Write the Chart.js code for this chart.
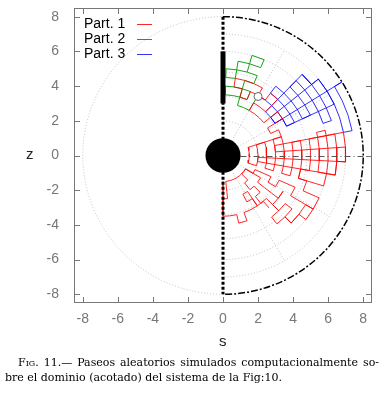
<!DOCTYPE html>
<html>
<head>
<meta charset="utf-8">
<script src="https://cdn.jsdelivr.net/npm/chart.js@4.4.1/dist/chart.umd.min.js"></script>
<style>
  html, body { margin: 0; padding: 0; background: #fff; }
  #wrap { position: relative; width: 386px; height: 405px; overflow: hidden; }
  #chart { position: absolute; left: 0; top: -6px; }
  .axlab { position: absolute; font: 15px "Liberation Sans", Arial, sans-serif; color: #222; }
  #zlab { left: 26px; top: 145px; }
  #slab { left: 219px; top: 332px; }
  #caption { position: absolute; left: 0; top: 355px; width: 386px; font: 11px "DejaVu Serif", serif; color: #000; line-height: 15px; }
  #caption .l1 { margin-left: 18px; width: 361px; text-align: justify; text-align-last: justify; }
  #caption .l2 { margin-left: 5px; white-space: nowrap; }
  .sc { font-variant: small-caps; }
</style>
</head>
<body>
<div id="wrap">
  <canvas id="chart" width="386" height="361"></canvas>
  <span id="zlab" class="axlab">z</span>
  <span id="slab" class="axlab">s</span>
  <div id="caption">
    <div class="l1">F<span class="sc">ig</span>. 11.— Paseos aleatorios simulados computacionalmente so-</div>
    <div class="l2">bre el dominio (acotado) del sistema de la Fig:10.</div>
  </div>
</div>
<script>
// axis ticks (both axes)
const tickValues = [-8, -6, -4, -2, 0, 2, 4, 6, 8];
const seriesNames = ["Part. 1", "Part. 2", "Part. 3"];

// random walks, nodes as [r, angle in degrees] on the polar lattice
const walk1 = [
  // upper part, near the source
  [4.0,60],[4.5,60],[4.5,67],[4.5,74],[4.5,81],[4.0,81],[4.0,74],[3.5,74],[3.5,67],[4.0,67],
  [4.0,60],[4.0,53],[4.5,53],[4.5,46],[4.0,46],[3.5,46],[3.5,53],[3.5,60],[3.0,60],[3.0,53],
  [3.0,46],[3.0,39],[3.5,39],[4.0,39],[4.0,32],[3.5,32],[3.0,32],[3.0,25],[3.5,25],[3.5,18],
  [3.0,18],[2.5,18],
  // block around z = 0
  [2.0,18],[1.5,18],[1.5,11],[1.5,4],[1.5,-3],[1.5,-10],[1.5,-17],
  [2.0,-17],[2.0,-10],[2.0,-3],[2.0,4],[2.0,11],[2.0,18],
  [2.5,18],[2.5,11],[2.5,4],[2.5,-3],[2.5,-10],[2.5,-17],
  [3.0,-17],[3.0,-10],[3.0,-3],[3.0,4],[3.0,11],[3.0,18],
  [3.5,18],[3.5,11],[3.5,4],[3.5,-3],[3.5,-10],[3.5,-17],
  [4.0,-17],[4.0,-10],[4.0,-3],[4.0,4],[4.0,11],
  [4.5,11],[4.5,4],[4.5,-3],[4.5,-10],
  [5.0,-10],[5.0,-3],[5.0,4],[5.0,11],
  [5.5,11],[5.5,4],[5.5,-3],[5.5,-10],
  [6.0,-10],[6.0,-3],[6.0,4],[6.0,11],[6.0,14],[5.5,14],[5.5,11],
  [6.5,11],[6.5,4],[6.5,-3],[6.5,-10],[6.5,-3],
  [7.0,-3],[7.0,4],[7.0,11],[3.0,11],[3.0,4],[7.0,4],[7.0,-3],[2.0,-3],[2.0,-10],[6.5,-10],
  [6.0,-10],[6.0,-17],[5.5,-17],[5.0,-17],[4.5,-17],[4.5,-10],[4.5,-17],
  // lower part
  [5.0,-17],[5.0,-24],[5.5,-24],[6.0,-24],[6.0,-31],[5.5,-31],[5.0,-31],[4.5,-31],[4.5,-24],[4.0,-24],
  [3.5,-24],[3.5,-31],[3.0,-31],[3.0,-24],[2.5,-24],[2.0,-24],[2.0,-31],[2.5,-31],[2.5,-38],[3.0,-38],
  [3.5,-38],[4.0,-38],[4.0,-31],[4.0,-38],[4.0,-45],[4.5,-45],[4.5,-38],[5.0,-38],[5.0,-45],[5.5,-45],
  [5.5,-38],[6.0,-38],[6.0,-31],[5.5,-31],[5.5,-38],[5.5,-45],[5.0,-45],[5.0,-52],[4.5,-52],[4.5,-45],
  [4.0,-45],[3.5,-45],[3.5,-52],[3.0,-52],[3.0,-45],[2.5,-45],[2.5,-52],[2.0,-52],[2.0,-45],[1.5,-45],
  [1.5,-38],[1.5,-31],[2.0,-31],[1.5,-31],[1.5,-38],[1.5,-45],
  [1.5,-52],[1.5,-59],[1.5,-66],[1.5,-73],[1.5,-80],[1.5,-84],[2.0,-84],[2.5,-84],[2.5,-90],[1.5,-90],
  [3.5,-90],[3.5,-84],[3.5,-77],[4.0,-77],[4.0,-70],[3.5,-70],[3.5,-63],[3.5,-56],[3.0,-56],[3.0,-63],
  [2.5,-63],[2.5,-56],[3.0,-56],[3.5,-56],[3.5,-49],[4.0,-49]
];
const walk2 = [
  [4.0,60],[3.5,60],[3.0,60],[3.0,67],[3.0,74],[3.5,74],[3.5,81],[3.5,88],[4.0,88],[4.0,81],
  [4.0,74],[4.0,67],[3.5,67],[3.5,74],[4.5,74],[4.5,67],[5.0,67],[5.0,74],[5.0,81],[5.0,88],
  [4.5,88],[4.5,81],[5.5,81],[5.5,74],[6.0,74],[6.0,67],[5.5,67],[5.5,74],[5.0,74]
];
const walk3 = [
  [4.0,60],[4.0,53],[4.0,46],[3.5,46],[3.5,39],[3.5,32],[4.0,32],[4.0,25],[4.5,25],[4.5,32],
  [4.5,39],[4.5,46],[4.5,53],[5.0,53],[5.0,46],[5.0,39],[5.0,32],[5.0,25],[5.5,25],[5.5,32],
  [5.5,39],[5.5,46],[6.0,46],[6.0,39],[6.0,32],[6.0,25],[6.0,18],[6.5,18],[6.5,25],[6.5,32],
  [6.5,39],[6.5,46],[6.5,39],[7.0,39],[7.0,32],[7.0,25],[7.0,18],[7.0,11],[7.5,11],[7.5,18],
  [7.5,25],[7.5,32],[8.0,32],[3.5,32],[3.5,39],[7.0,39],[7.0,32],[7.0,25],[4.0,25],[4.0,32],
  [4.0,39],[4.0,46],[6.5,46],[6.5,39]
];

// geometry of the domain
const domainRadius = 8;
const obstacleRadius = 1;
const wallSegment = [3, 6];
const sourcePoint = [2.0, 3.4];
const guideRadii = [2, 3.4, 4.8, 6, 7];
const guideAngles = [-60, -30, 30, 60];

const colors = ["rgba(255,0,0,0.85)", "rgb(20,165,20)", "rgba(0,0,255,0.8)"];

function toXY(nodes) {
  return nodes.map(([r, a]) => ({
    x: r * Math.cos(a * Math.PI / 180),
    y: r * Math.sin(a * Math.PI / 180),
  }));
}

const decor = {
  id: "decor",
  beforeDatasetsDraw(chart) {
    const { ctx, scales: { x, y } } = chart;
    const cx = x.getPixelForValue(0), cy = y.getPixelForValue(0);
    const kx = x.getPixelForValue(1) - cx, ky = cy - y.getPixelForValue(1);
    ctx.save();
    ctx.lineWidth = 1;
    ctx.setLineDash([1, 2]);
    ctx.strokeStyle = "rgba(185,180,195,0.85)";
    ctx.beginPath();
    ctx.ellipse(cx, cy, domainRadius * kx, domainRadius * ky, 0, Math.PI / 2, 3 * Math.PI / 2);
    ctx.stroke();
    guideRadii.forEach((r) => {
      ctx.beginPath();
      ctx.ellipse(cx, cy, r * kx, r * ky, 0, -Math.PI / 2, Math.PI / 2);
      ctx.stroke();
    });
    guideAngles.forEach((a) => {
      const c = Math.cos(a * Math.PI / 180), s = Math.sin(a * Math.PI / 180);
      ctx.beginPath();
      ctx.moveTo(cx + c * kx * 0.3, cy - s * ky * 0.3);
      ctx.lineTo(cx + c * kx * 7, cy - s * ky * 7);
      ctx.stroke();
    });
    ctx.restore();
  },
  afterDatasetsDraw(chart) {
    const { ctx, chartArea: ca, scales: { x, y } } = chart;
    const cx = x.getPixelForValue(0), cy = y.getPixelForValue(0);
    const kx = x.getPixelForValue(1) - cx, ky = cy - y.getPixelForValue(1);
    ctx.save();
    // axis of symmetry z = 0
    ctx.strokeStyle = "#555";
    ctx.lineWidth = 1;
    ctx.setLineDash([6, 3, 1, 3]);
    ctx.beginPath();
    ctx.moveTo(cx + kx, Math.round(cy) + 0.5);
    ctx.lineTo(cx + domainRadius * kx, Math.round(cy) + 0.5);
    ctx.stroke();
    // absorbing obstacle
    ctx.setLineDash([]);
    ctx.fillStyle = "#000";
    ctx.beginPath();
    ctx.ellipse(cx, cy, obstacleRadius * kx, obstacleRadius * ky, 0, 0, 2 * Math.PI);
    ctx.fill();
    // outer boundary
    ctx.strokeStyle = "#000";
    ctx.lineWidth = 1.5;
    ctx.setLineDash([7, 2, 2, 2]);
    ctx.beginPath();
    ctx.ellipse(cx, cy, domainRadius * kx, domainRadius * ky, 0, -Math.PI / 2, Math.PI / 2);
    ctx.stroke();
    // reflecting axis s = 0
    ctx.lineWidth = 3;
    ctx.setLineDash([3, 2]);
    ctx.beginPath();
    ctx.moveTo(cx, y.getPixelForValue(domainRadius));
    ctx.lineTo(cx, y.getPixelForValue(-domainRadius));
    ctx.stroke();
    // wall segment
    ctx.setLineDash([]);
    ctx.lineWidth = 5;
    ctx.beginPath();
    ctx.moveTo(cx, y.getPixelForValue(wallSegment[0]));
    ctx.lineTo(cx, y.getPixelForValue(wallSegment[1]));
    ctx.stroke();
    // source
    ctx.lineWidth = 1;
    ctx.strokeStyle = "#666";
    ctx.fillStyle = "#fff";
    ctx.beginPath();
    ctx.arc(x.getPixelForValue(sourcePoint[0]), y.getPixelForValue(sourcePoint[1]), 4, 0, 2 * Math.PI);
    ctx.fill();
    ctx.stroke();
    // frame and inward ticks
    ctx.strokeStyle = "#777";
    ctx.lineWidth = 1;
    ctx.strokeRect(Math.round(ca.left) + 0.5, Math.round(ca.top) + 0.5,
      Math.round(ca.right - ca.left) - 1, Math.round(ca.bottom - ca.top) - 1);
    ctx.beginPath();
    tickValues.forEach((v) => {
      const px = Math.round(x.getPixelForValue(v)) + 0.5;
      const py = Math.round(y.getPixelForValue(v)) + 0.5;
      ctx.moveTo(px, ca.bottom); ctx.lineTo(px, ca.bottom - 6);
      ctx.moveTo(px, ca.top); ctx.lineTo(px, ca.top + 6);
      ctx.moveTo(ca.left, py); ctx.lineTo(ca.left + 6, py);
      ctx.moveTo(ca.right, py); ctx.lineTo(ca.right - 6, py);
    });
    ctx.stroke();
    // key
    ctx.font = '14px "Liberation Sans", Arial, sans-serif';
    ctx.textBaseline = "middle";
    chart.data.datasets.forEach((ds, i) => {
      const ty = ca.top + 16 + i * 15;
      ctx.fillStyle = "#000";
      ctx.fillText(ds.label, ca.left + 10, ty);
      ctx.strokeStyle = ds.borderColor;
      ctx.beginPath();
      ctx.moveTo(ca.left + 63, Math.round(ty) + 0.5);
      ctx.lineTo(ca.left + 78, Math.round(ty) + 0.5);
      ctx.stroke();
    });
    ctx.restore();
  },
};

const walks = [walk1, walk2, walk3];
const axisFont = { family: "Liberation Sans", size: 14, lineHeight: 1 };

new Chart(document.getElementById("chart"), {
  type: "scatter",
  data: {
    datasets: walks.map((w, i) => ({
      label: seriesNames[i],
      data: toXY(w),
      showLine: true,
      borderColor: colors[i],
      borderWidth: 1,
      pointRadius: 0,
      tension: 0,
    })),
  },
  options: {
    responsive: false,
    animation: false,
    devicePixelRatio: 1,
    layout: { padding: { top: 0, right: 14, left: 0, bottom: 0 } },
    plugins: { legend: { display: false }, tooltip: { enabled: false } },
    scales: {
      x: {
        type: "linear", min: -8.5, max: 8.5,
        afterBuildTicks: (s) => { s.ticks = tickValues.map((v) => ({ value: v })); },
        afterFit: (s) => { s.height = 52; },
        grid: { display: false }, border: { display: false },
        ticks: { color: "#777", font: axisFont, padding: 1, maxRotation: 0, autoSkip: false },
      },
      y: {
        type: "linear", min: -8.5, max: 8.5,
        afterBuildTicks: (s) => { s.ticks = tickValues.map((v) => ({ value: v })); },
        afterFit: (s) => { s.width = 74; },
        grid: { display: false }, border: { display: false },
        ticks: { color: "#777", font: axisFont, padding: 7, autoSkip: false },
      },
    },
  },
  plugins: [decor],
});
</script>
</body>
</html>
